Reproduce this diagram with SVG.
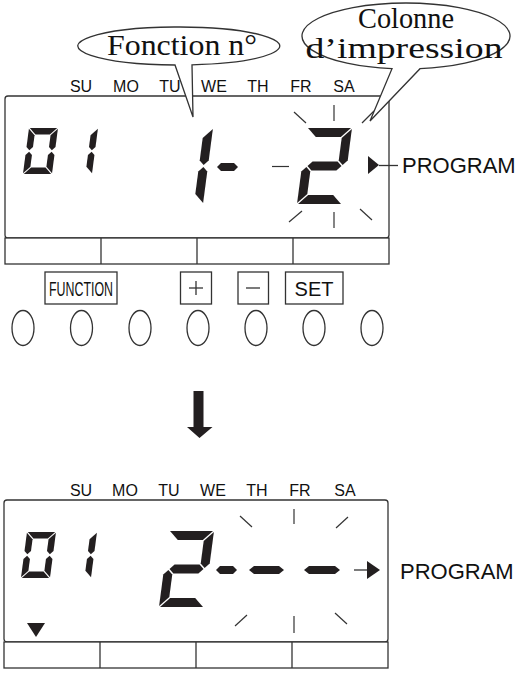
<svg xmlns="http://www.w3.org/2000/svg" xmlns:xlink="http://www.w3.org/1999/xlink" width="521" height="675" viewBox="0 0 521 675">
<style>
.ln{fill:none;stroke:#333;stroke-width:1.3}
.ray{fill:none;stroke:#333;stroke-width:1.2}
.box{fill:#fff;stroke:#333;stroke-width:1.3}
.seg{fill:#231f20}
.day{font-family:"Liberation Sans",Arial,sans-serif;font-size:16px;fill:#111;text-anchor:middle}
.prog{font-family:"Liberation Sans",Arial,sans-serif;font-size:22px;fill:#111}
.serif{font-family:"Liberation Serif","Times New Roman",serif;font-size:30px;fill:#111;text-anchor:middle}
.btn{font-family:"Liberation Sans",Arial,sans-serif;fill:#111}
</style>
<defs>
<g id="sA"><polygon class="seg" points="0.8,0 28.2,0 21.7,6.5 7.3,6.5"/></g>
<g id="sB"><polygon class="seg" points="29,0.8 22.5,7.3 22.5,18.95 25.75,22.2 29,18.95"/></g>
<g id="sC"><polygon class="seg" points="29,27.05 25.75,23.8 22.5,27.05 22.5,38.7 29,45.2"/></g>
<g id="sD"><polygon class="seg" points="0.8,46 28.2,46 21.7,39.5 7.3,39.5"/></g>
<g id="sE"><polygon class="seg" points="0,27.05 3.25,23.8 6.5,27.05 6.5,38.7 0,45.2"/></g>
<g id="sF"><polygon class="seg" points="0,0.8 6.5,7.3 6.5,18.95 3.25,22.2 0,18.95"/></g>
<g id="s0"><use href="#sA"/><use href="#sB"/><use href="#sC"/><use href="#sD"/><use href="#sE"/><use href="#sF"/></g>
<g id="s1"><use href="#sB"/><use href="#sC"/></g>
<g id="bA"><polygon class="seg" points="1,0 44,0 35,9 10,9"/></g>
<g id="bB"><polygon class="seg" points="45,1 36,10 36,32.5 40.5,37 45,32.5"/></g>
<g id="bC"><polygon class="seg" points="45,43.5 40.5,39 36,43.5 36,66 45,75"/></g>
<g id="bD"><polygon class="seg" points="1,76 44,76 35,67 10,67"/></g>
<g id="bE"><polygon class="seg" points="0,43.5 4.5,39 9,43.5 9,66 0,75"/></g>
<g id="bG"><polygon class="seg" points="5.5,38 10,33.5 35,33.5 39.5,38 35,42.5 10,42.5"/></g>
<g id="b1"><use href="#bB"/><use href="#bC"/></g>
<g id="b2"><use href="#bA"/><use href="#bB"/><use href="#bG"/><use href="#bE"/><use href="#bD"/></g>
</defs>
<rect width="521" height="675" fill="#fff"/>

<g id="display-top">
<rect class="box" x="5" y="96" width="384" height="142" rx="3"/>
<rect class="box" x="5" y="238" width="384" height="26"/>
<line class="ln" x1="101" y1="238" x2="101" y2="264"/>
<line class="ln" x1="197" y1="238" x2="197" y2="264"/>
<line class="ln" x1="293" y1="238" x2="293" y2="264"/>
<g>
<text class="day" x="81" y="92">SU</text>
<text class="day" x="126" y="92">MO</text>
<text class="day" x="170" y="92">TU</text>
<text class="day" x="214" y="92">WE</text>
<text class="day" x="258" y="92">TH</text>
<text class="day" x="301" y="92">FR</text>
<text class="day" x="344" y="92">SA</text>
</g>
<use href="#s0" transform="translate(29,128) skewX(-7.5)"/>
<use href="#s1" transform="translate(69,128) skewX(-7.5)"/>
<use href="#b1" transform="translate(168,128) skewX(-7.5)"/>
<polygon class="seg" points="217,167 221,163 234,163 238,167 234,171 221,171"/>
<use href="#b2" transform="translate(307,128) skewX(-7.5)"/>
<g>
<line class="ray" x1="294" y1="112" x2="306" y2="123"/>
<line class="ray" x1="334" y1="105" x2="334" y2="121"/>
<line class="ray" x1="362" y1="123" x2="374" y2="111"/>
<line class="ray" x1="272" y1="166.5" x2="289" y2="166.5"/>
<line class="ray" x1="289" y1="222" x2="302" y2="211"/>
<line class="ray" x1="334" y1="212" x2="334" y2="228"/>
<line class="ray" x1="360" y1="209" x2="372" y2="220"/>
</g>
<polygon fill="#231f20" points="368,156 379,165 368,174"/>
<line class="ln" x1="379" y1="165.5" x2="398" y2="165.5"/>
<text class="prog" x="402" y="173">PROGRAM</text>
</g>

<g id="callout-fonction">
<path d="M175,64.99 A101,19 0 1,1 192,64.84 L193,117 Z" fill="#fff" stroke="#333" stroke-width="1.3"/>
<text class="serif" x="182" y="55" textLength="150" lengthAdjust="spacingAndGlyphs">Fonction n°</text>
</g>

<g id="callout-colonne">
<path d="M392,68.7 A104,33 0 1,1 420,68.7 L370,121 Z" fill="#fff" stroke="#333" stroke-width="1.3"/>
<text class="serif" x="406" y="28" textLength="96" lengthAdjust="spacingAndGlyphs">Colonne</text>
<text class="serif" x="404" y="58" font-size="32" textLength="197" lengthAdjust="spacingAndGlyphs">d’impression</text>
</g>

<g id="buttons">
<g id="btn-function">
<rect class="box" x="45" y="272" width="72" height="32"/>
<text class="btn" x="49" y="296" font-size="21" textLength="64" lengthAdjust="spacingAndGlyphs">FUNCTION</text>
</g>
<g id="btn-plus">
<rect class="box" x="180.5" y="272" width="31" height="32"/>
<line class="ln" x1="189" y1="288" x2="203" y2="288"/>
<line class="ln" x1="196" y1="281" x2="196" y2="295"/>
</g>
<g id="btn-minus">
<rect class="box" x="238" y="272" width="30.5" height="32"/>
<line class="ln" x1="246" y1="288" x2="260" y2="288"/>
</g>
<g id="btn-set">
<rect class="box" x="285.5" y="272" width="57.5" height="32"/>
<text class="btn" x="314" y="296" font-size="20" text-anchor="middle">SET</text>
</g>
<g id="keys">
<ellipse class="ln" cx="23" cy="328" rx="11" ry="17.5"/>
<ellipse class="ln" cx="81.5" cy="328" rx="11" ry="17.5"/>
<ellipse class="ln" cx="140" cy="328" rx="11" ry="17.5"/>
<ellipse class="ln" cx="198" cy="328" rx="11" ry="17.5"/>
<ellipse class="ln" cx="256" cy="328" rx="11" ry="17.5"/>
<ellipse class="ln" cx="314" cy="328" rx="11" ry="17.5"/>
<ellipse class="ln" cx="372" cy="328" rx="11" ry="17.5"/>
</g>
</g>

<g id="connectors">
<polygon fill="#231f20" points="193.5,391 203.5,391 203.5,427 212.5,427 199.5,438 187,427 193.5,427"/>
</g>

<g id="display-bottom">
<rect class="box" x="4" y="500" width="384" height="142" rx="3"/>
<rect class="box" x="4" y="642" width="384" height="26"/>
<line class="ln" x1="100" y1="642" x2="100" y2="668"/>
<line class="ln" x1="196" y1="642" x2="196" y2="668"/>
<line class="ln" x1="292" y1="642" x2="292" y2="668"/>
<g>
<text class="day" x="81" y="496">SU</text>
<text class="day" x="125" y="496">MO</text>
<text class="day" x="169" y="496">TU</text>
<text class="day" x="213" y="496">WE</text>
<text class="day" x="257" y="496">TH</text>
<text class="day" x="300" y="496">FR</text>
<text class="day" x="345" y="496">SA</text>
</g>
<use href="#s0" transform="translate(27,532) skewX(-7.5)"/>
<use href="#s1" transform="translate(68,532) skewX(-7.5)"/>
<use href="#b2" transform="translate(169,531) skewX(-7.5)"/>
<polygon class="seg" points="216,570 220,566 233,566 237,570 233,574 220,574"/>
<polygon class="seg" points="249,570 254,566 279,566 284,570 279,574 254,574"/>
<polygon class="seg" points="304,570 309,566 335,566 340,570 335,574 309,574"/>
<g>
<line class="ray" x1="240" y1="516" x2="252" y2="527"/>
<line class="ray" x1="294" y1="509" x2="294" y2="524"/>
<line class="ray" x1="336" y1="528" x2="348" y2="517"/>
<line class="ray" x1="235" y1="626" x2="247" y2="615"/>
<line class="ray" x1="294" y1="616" x2="294" y2="633"/>
<line class="ray" x1="335" y1="613" x2="347" y2="624"/>
</g>
<line class="ln" x1="354" y1="570" x2="368" y2="570"/>
<polygon fill="#231f20" points="367,561 380,570 367,579"/>
<polygon fill="#231f20" points="27,623 45,623 36,637"/>
<text class="prog" x="400" y="579">PROGRAM</text>
</g>
</svg>
